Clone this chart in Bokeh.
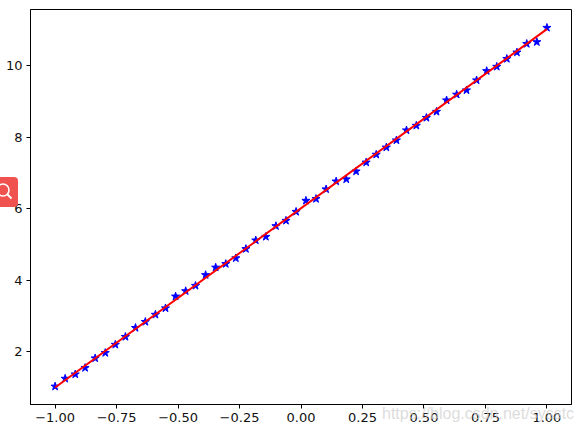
from bokeh.plotting import figure
from bokeh.models import Div, FixedTicker, Range1d
from bokeh.layouts import column
from bokeh.embed import file_html
from bokeh.resources import INLINE

x_values = [-1.0, -0.959, -0.918, -0.878, -0.837, -0.796, -0.755, -0.714, -0.673, -0.633,
            -0.592, -0.551, -0.51, -0.469, -0.429, -0.388, -0.347, -0.306, -0.265, -0.224,
            -0.184, -0.143, -0.102, -0.061, -0.02, 0.02, 0.061, 0.102, 0.143, 0.184,
            0.224, 0.265, 0.306, 0.347, 0.388, 0.429, 0.469, 0.51, 0.551, 0.592,
            0.633, 0.673, 0.714, 0.755, 0.796, 0.837, 0.878, 0.918, 0.959, 1.0]
y_values = [1.03, 1.25, 1.37, 1.55, 1.82, 1.97, 2.2, 2.42, 2.67, 2.84,
            3.04, 3.22, 3.55, 3.7, 3.85, 4.15, 4.36, 4.46, 4.62, 4.88,
            5.12, 5.22, 5.52, 5.67, 5.92, 6.23, 6.28, 6.55, 6.77, 6.83,
            7.05, 7.3, 7.52, 7.72, 7.92, 8.2, 8.33, 8.55, 8.72, 9.04,
            9.2, 9.32, 9.6, 9.86, 9.98, 10.2, 10.38, 10.62, 10.67, 11.07]
fit_x = [-1.0, 1.0]
fit_y = [1.0, 11.03]
x_ticks = [-1.0, -0.75, -0.5, -0.25, 0.0, 0.25, 0.5, 0.75, 1.0]
x_labels = ["\u22121.00", "\u22120.75", "\u22120.50", "\u22120.25", "0.00", "0.25", "0.50", "0.75", "1.00"]
y_ticks = [2, 4, 6, 8, 10]
watermark = "https://blog.csdn.net/sysstc"

p = figure(width=581, height=432, output_backend="svg", toolbar_location=None,
           x_range=Range1d(-1.1, 1.1), y_range=Range1d(0.525, 11.58),
           min_border_left=30, min_border_right=10, min_border_top=9, min_border_bottom=28)
p.grid.visible = False
p.outline_line_color = "black"
p.outline_line_width = 1
p.background_fill_color = "white"

for ax in (p.xaxis[0], p.yaxis[0]):
    ax.major_tick_in = 0
    ax.major_tick_out = 4
    ax.minor_tick_in = 0
    ax.minor_tick_out = 0
    ax.axis_line_color = "black"
    ax.major_tick_line_color = "black"
    ax.major_label_text_font = "DejaVu Sans"
    ax.major_label_text_font_size = "13px"
    ax.major_label_text_color = "#111111"
    ax.major_label_standoff = 4

p.xaxis[0].ticker = FixedTicker(ticks=x_ticks)
p.xaxis[0].major_label_overrides = dict(zip(x_ticks, x_labels))
p.yaxis[0].ticker = FixedTicker(ticks=y_ticks)

p.scatter(x_values, y_values, marker="star", size=8.5, fill_color="blue", line_color="blue", line_width=1)
p.line(fit_x, fit_y, line_color="#ff0000", line_width=2)

badge = Div(text='<svg width="18" height="30" style="display:block">'
                 '<circle cx="3" cy="13" r="6" fill="none" stroke="white" stroke-width="1.6"/>'
                 '<line x1="7.5" y1="17.5" x2="11.5" y2="21.5" stroke="white" stroke-width="2"/>'
                 '</svg>',
            width=18, height=30, margin=0,
            styles={"position": "absolute", "left": "0px", "top": "177px",
                    "background": "#f0524f", "border-radius": "0 4px 4px 0", "z-index": "5"})
mark = Div(text=watermark, width=200, height=20, margin=0,
           styles={"position": "absolute", "left": "382px", "top": "403px",
                   "font-family": "Liberation Sans", "font-size": "16px",
                   "color": "rgba(205,205,205,0.7)", "white-space": "nowrap", "z-index": "5"})

root = column(p, badge, mark, spacing=0)
open("out.html", "w").write(file_html(root, INLINE))
